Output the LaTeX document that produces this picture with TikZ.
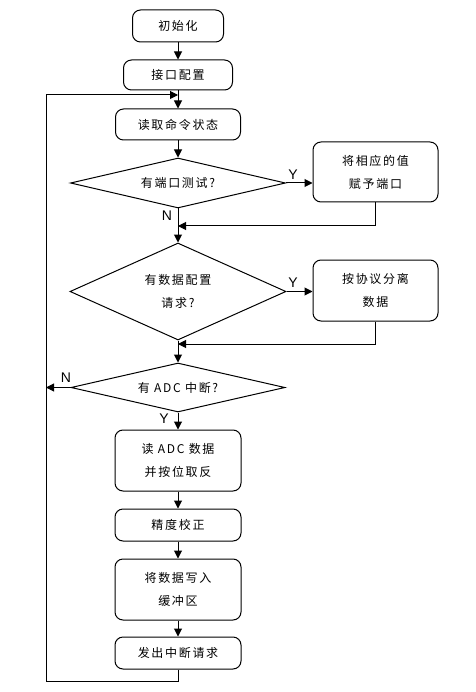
\documentclass[tikz,border=0pt]{standalone}
\usepackage{fontspec}
\newfontfamily\cjk[LetterSpace=14]{Noto Sans CJK SC}
\newfontfamily\lat{Liberation Sans}
\usetikzlibrary{shapes.geometric,arrows.meta}
\begin{document}
\begin{tikzpicture}[x=1pt, y=-1pt, line width=1pt,
    box/.style={rectangle, rounded corners=8pt, draw, inner sep=0pt, align=center, font=\cjk\fontsize{12}{23}\selectfont},
    cond/.style={diamond, draw, inner sep=0pt, align=center, font=\cjk\fontsize{12}{23}\selectfont},
    yn/.style={inner sep=0pt, font=\lat\fontsize{14}{14}\selectfont},
    >={Triangle[length=8pt, width=8pt]}]
    \useasboundingbox (0,0) rectangle (475,692);

    \node[box, minimum width=91pt, minimum height=32pt] (init) at (178,26) {初始化};
    \node[box, minimum width=109pt, minimum height=30pt] (iface) at (178,75) {接口配置};
    \node[box, minimum width=125pt, minimum height=31pt] (read) at (178,124.5) {读取命令状态};
    \node[cond, aspect=4.3, minimum width=215pt, minimum height=50pt] (dec1) at (178,183) {有端口测试?};
    \node[box, minimum width=125pt, minimum height=60pt] (act1) at (375.5,172) {将相应的值\\赋予端口};
    \node[cond, aspect=2.2, minimum width=216pt, minimum height=97pt] (dec2) at (178,291.5) {有数据配置\\请求?};
    \node[box, minimum width=125pt, minimum height=61pt] (act2) at (375.5,290.5) {按协议分离\\数据};
    \node[cond, aspect=4.3, minimum width=214pt, minimum height=49pt] (dec3) at (178,387.5) {有 ADC 中断?};
    \node[box, minimum width=126pt, minimum height=61pt] (adc) at (178,460.5) {读 ADC 数据\\并按位取反};
    \node[box, minimum width=126pt, minimum height=32pt] (prec) at (178,525) {精度校正};
    \node[box, minimum width=126pt, minimum height=61pt] (buf) at (178,589.5) {将数据写入\\缓冲区};
    \node[box, minimum width=126pt, minimum height=32pt] (send) at (178,653) {发出中断请求};

    \node[yn] (y1) at (293,175) {Y};
    \node[yn] (n1) at (167,216) {N};
    \node[yn] (y2) at (293,283) {Y};
    \node[yn] (n3) at (66,378) {N};
    \node[yn] (y3) at (164,419) {Y};

    \coordinate (m1) at (178,226);
    \coordinate (m2) at (178,344);
    \coordinate (nleft) at (46,387.5);
    \coordinate (loopbot) at (46,681);
    \coordinate (looptop) at (46,95);
    \coordinate (entry) at (178,95);

    \draw[->] (init) -- (iface);
    \draw[->] (iface) -- (read);
    \draw[->] (read) -- (dec1);
    \draw[->] (dec1.east) -- (dec1.east -| act1.west);
    \draw[->] (dec1) -- (dec2);
    \draw[->] (act1.south) |- (m1);
    \draw[->] (dec2.east) -- (dec2.east -| act2.west);
    \draw[->] (dec2) -- (dec3);
    \draw[->] (act2.south) |- (m2);
    \draw[->] (dec3.west) -- (nleft);
    \draw[->] (dec3) -- (adc);
    \draw[->] (adc) -- (prec);
    \draw[->] (prec) -- (buf);
    \draw[->] (buf) -- (send);
    \draw[->] (send.south) |- (loopbot) -- (looptop) -- (entry);
\end{tikzpicture}
\end{document}
